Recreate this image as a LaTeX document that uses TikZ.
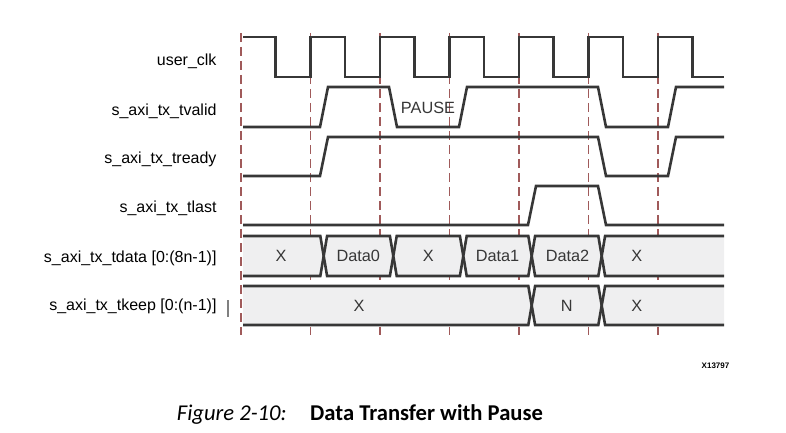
\documentclass[tikz,border=0pt]{standalone}
\usepackage{fontspec}
\setmainfont{Liberation Sans}
\newfontfamily\capfont{Carlito}
\definecolor{sigc}{RGB}{55,55,55}
\definecolor{gridc}{RGB}{160,90,90}
\definecolor{busc}{RGB}{239,239,240}
\begin{document}
\begin{tikzpicture}[x=1pt,y=-1pt,
  sig/.style={draw=sigc,line width=2.6pt,line join=miter},
  grid/.style={draw=gridc,line width=1.2pt,dash pattern=on 9pt off 5pt},
  busfill/.style={fill=busc},
  lbl/.style={anchor=base east,inner sep=0,font=\fontsize{16}{19}\selectfont},
  val/.style={anchor=base,inner sep=0,font=\fontsize{16.3}{19}\selectfont,text=sigc}]
\useasboundingbox (0,0) rectangle (786,433);
% grid lines
\foreach \x in {241,310.5,380,449.5,519,588.5,658}
  \draw[grid] (\x,33) -- (\x,335);
% labels
\node[lbl] (lclk) at (216.7,66) {user\_clk};
\node[lbl] (lvalid) at (216.7,115.3) {s\_axi\_tx\_tvalid};
\node[lbl] (lready) at (216.7,163.3) {s\_axi\_tx\_tready};
\node[lbl] (llast) at (216.7,212.7) {s\_axi\_tx\_tlast};
\node[lbl] (ldata) at (216.7,262.3) {s\_axi\_tx\_tdata [0:(8n-1)]};
\node[lbl] (lkeep) at (216.7,310.7) {s\_axi\_tx\_tkeep [0:(n-1)]};
\draw[draw=gray,line width=1.3pt] (228,300) -- (228,317);
% clock
\draw[sig] (243,37) -- (275.5,37) -- (275.5,77) -- (310.5,77) -- (310.5,37) -- (345,37) -- (345,77) -- (380,77) -- (380,37) -- (414.5,37) -- (414.5,77) -- (449.5,77) -- (449.5,37) -- (484,37) -- (484,77) -- (519,77) -- (519,37) -- (553.5,37) -- (553.5,77) -- (588.5,77) -- (588.5,37) -- (623,37) -- (623,77) -- (658,77) -- (658,37) -- (692.5,37) -- (692.5,77) -- (724,77);
% tvalid
\draw[sig] (243,127) -- (320,127) -- (328,87) -- (389,87) -- (397,127) -- (459,127) -- (467,87) -- (598,87) -- (606,127) -- (668,127) -- (676,87) -- (724,87);
\node[val] (pause) at (428,113.3) {PAUSE};
% tready
\draw[sig] (243,176) -- (320,176) -- (328,137) -- (598,137) -- (606,176) -- (668,176) -- (676,137) -- (724,137);
% tlast
\draw[sig] (243,225) -- (528,225) -- (536,186) -- (598,186) -- (606,225) -- (724,225);
% tdata bus
\def\h{3.4}
\begin{scope}
\def\t{236}\def\m{256}\def\b{276}
\fill[busfill] (243,\t) -- (323.7-\h,\t) -- (323.7,\m) -- (323.7-\h,\b) -- (243,\b) -- cycle;
\draw[sig] (243,\t) -- (323.7-\h,\t) -- (323.7,\m) -- (323.7-\h,\b) -- (243,\b);
\foreach \a/\c in {323.7/393.3,393.3/463.3,463.3/531.7,531.7/601.7}{
  \filldraw[sig,busfill] (\a,\m) -- (\a+\h,\t) -- (\c-\h,\t) -- (\c,\m) -- (\c-\h,\b) -- (\a+\h,\b) -- cycle;}
\fill[busfill] (724,\t) -- (601.7+\h,\t) -- (601.7,\m) -- (601.7+\h,\b) -- (724,\b) -- cycle;
\draw[sig] (724,\t) -- (601.7+\h,\t) -- (601.7,\m) -- (601.7+\h,\b) -- (724,\b);
\end{scope}
\node[val] (d1) at (281,261.7) {X};
\node[val] (d2) at (358.3,261.7) {Data0};
\node[val] (d3) at (428.3,261.7) {X};
\node[val] (d4) at (497.5,261.7) {Data1};
\node[val] (d5) at (567.5,261.7) {Data2};
\node[val] (d6) at (636.7,261.7) {X};
% tkeep bus
\begin{scope}
\def\t{286}\def\m{305.5}\def\b{325}
\fill[busfill] (243,\t) -- (531.7-\h,\t) -- (531.7,\m) -- (531.7-\h,\b) -- (243,\b) -- cycle;
\draw[sig] (243,\t) -- (531.7-\h,\t) -- (531.7,\m) -- (531.7-\h,\b) -- (243,\b);
\filldraw[sig,busfill] (531.7,\m) -- (531.7+\h,\t) -- (601.7-\h,\t) -- (601.7,\m) -- (601.7-\h,\b) -- (531.7+\h,\b) -- cycle;
\fill[busfill] (724,\t) -- (601.7+\h,\t) -- (601.7,\m) -- (601.7+\h,\b) -- (724,\b) -- cycle;
\draw[sig] (724,\t) -- (601.7+\h,\t) -- (601.7,\m) -- (601.7+\h,\b) -- (724,\b);
\end{scope}
\node[val] (k1) at (359,311.2) {X};
\node[val] (k2) at (566.7,311.2) {N};
\node[val] (k3) at (636.7,311.2) {X};
% id
\node[anchor=base,inner sep=0,font=\fontsize{8}{10}\selectfont\bfseries] (xid) at (715.5,368.7) {X13797};
% caption
\node[anchor=base west,inner sep=0,font=\capfont\fontsize{22.6}{26}\selectfont\itshape] (fig) at (176.7,420.7) {Figure 2-10:};
\node[anchor=base west,inner sep=0,font=\capfont\fontsize{22.6}{26}\selectfont\bfseries] (title) at (310,420.7) {Data Transfer with Pause};
\end{tikzpicture}
\end{document}
